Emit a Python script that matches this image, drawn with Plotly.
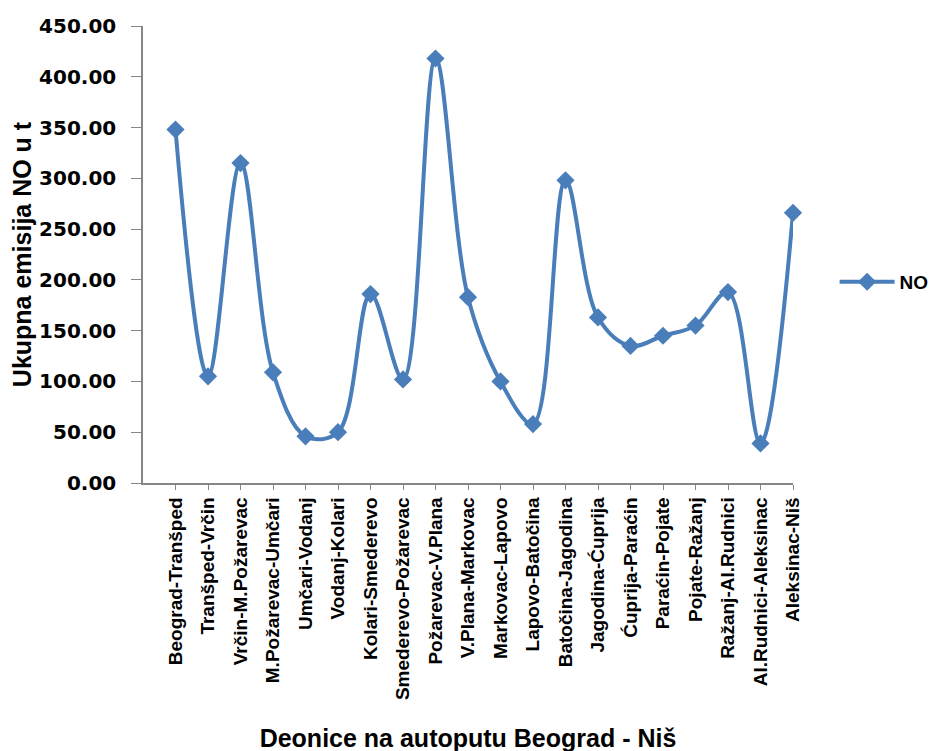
import plotly.graph_objects as go

categories = ["Beograd-Tranšped", "Tranšped-Vrčin", "Vrčin-M.Požarevac", "M.Požarevac-Umčari",
              "Umčari-Vodanj", "Vodanj-Kolari", "Kolari-Smederevo", "Smederevo-Požarevac",
              "Požarevac-V.Plana", "V.Plana-Markovac", "Markovac-Lapovo", "Lapovo-Batočina",
              "Batočina-Jagodina", "Jagodina-Ćuprija", "Ćuprija-Paraćin", "Paraćin-Pojate",
              "Pojate-Ražanj", "Ražanj-Al.Rudnici", "Al.Rudnici-Aleksinac", "Aleksinac-Niš"]
no_values = [348, 105, 315, 109, 46, 50, 186, 102, 418, 183, 100, 58,
             298, 163, 135, 145, 155, 188, 39, 266]
y_ticks = [0, 50, 100, 150, 200, 250, 300, 350, 400, 450]

idx = list(range(len(categories)))
blue = "#4A7EBB"
axis_col = "#868686"

fig = go.Figure()
fig.add_trace(go.Scatter(
    x=idx, y=no_values, name="<b>NO</b>", mode="lines+markers",
    line=dict(color=blue, width=4, shape="spline", smoothing=1.0),
    marker=dict(symbol="diamond", size=14, color=blue),
    cliponaxis=False,
))

fig.update_layout(
    width=941, height=751,
    margin=dict(l=135, r=156, t=18, b=276, autoexpand=False),
    plot_bgcolor="white", paper_bgcolor="white",
    font=dict(family="Liberation Sans, Arial, sans-serif", color="black"),
    showlegend=True,
    legend=dict(x=1.064, y=0.44, xanchor="left", yanchor="middle",
                font=dict(size=19, family="Liberation Sans, Arial, sans-serif"),
                bgcolor="rgba(0,0,0,0)", itemwidth=55),
    xaxis=dict(
        range=[-1, len(categories) - 1],
        tickmode="array", tickvals=idx,
        ticktext=[f"<b>{c}</b>" for c in categories],
        tickangle=-90, tickfont=dict(size=19, family="Liberation Sans, Arial, sans-serif"),
        showline=True, linecolor=axis_col, linewidth=1.5,
        ticks="outside", ticklen=5, tickcolor=axis_col,
        showgrid=False, zeroline=False, automargin=False,
        title=dict(text="<b>Deonice na autoputu Beograd - Niš</b>",
                   font=dict(size=25), standoff=30),
    ),
    yaxis=dict(
        range=[0, 450],
        tickmode="array", tickvals=y_ticks,
        ticktext=[f"<b>{v:.2f}</b>" for v in y_ticks],
        tickfont=dict(size=20, family="DejaVu Sans, sans-serif"),
        showline=True, linecolor=axis_col, linewidth=1.5,
        ticks="outside", ticklen=10, tickcolor=axis_col,
        ticklabelstandoff=11,
        showgrid=False, zeroline=False, automargin=False,
        title=dict(text="<b>Ukupna emisija NO u t</b>",
                   font=dict(size=25), standoff=8),
    ),
)

fig.write_html("out.html")
